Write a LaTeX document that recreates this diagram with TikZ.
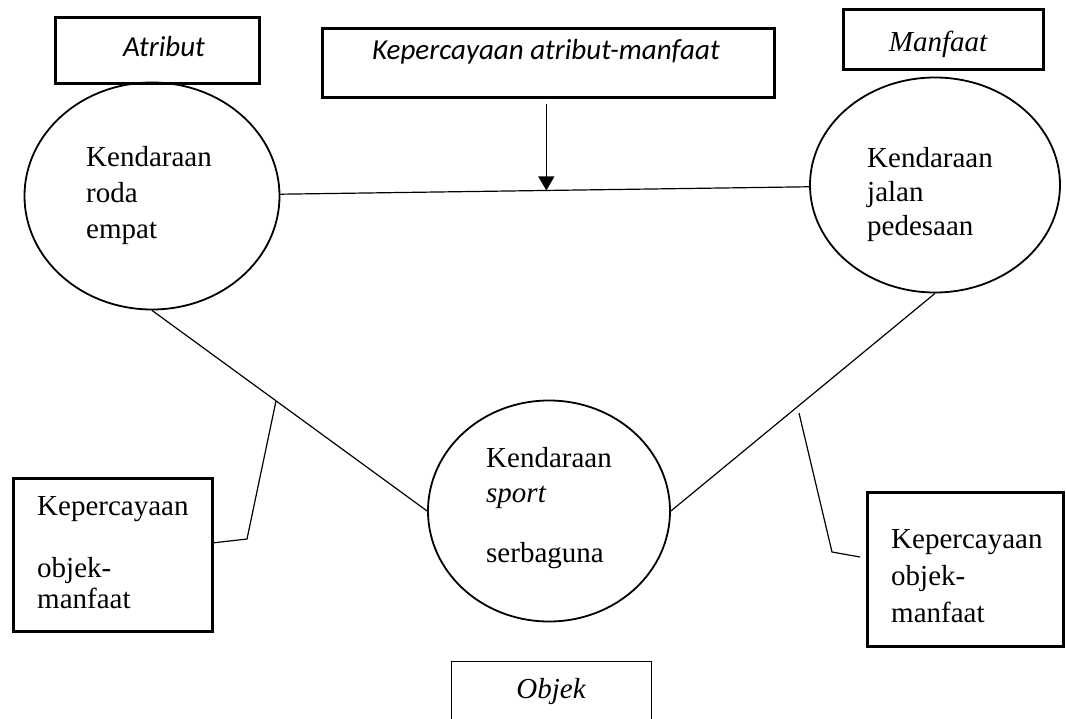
\documentclass[tikz,border=0pt]{standalone}
\usepackage{fontspec}
\setmainfont{Liberation Serif}
\newfontfamily\calibrifont{Carlito}
\usetikzlibrary{shapes.geometric,arrows.meta,calc}
\begin{document}
\begin{tikzpicture}[x=1pt,y=-1pt,
  box/.style={draw,line width=3pt,inner sep=0pt},
  oval/.style={draw,ellipse,line width=1.8pt,inner sep=0pt},
  conn/.style={line width=1.2pt},
  txt/.style={anchor=base west,inner sep=0pt,font=\fontsize{29}{34}\selectfont},
  ctxt/.style={anchor=base,inner sep=0pt,font=\fontsize{29}{34}\selectfont}]
\useasboundingbox (0,0) rectangle (1066,718);
% top boxes
\node[box,minimum width=204pt,minimum height=66pt] (atr) at (157,50) {};
\node[ctxt,font=\fontsize{29}{34}\calibrifont\itshape] (atrT) at (164,56) {Atribut};
\node[box,minimum width=452pt,minimum height=69pt] (kep) at (548,62.5) {};
\node[txt,font=\fontsize{29}{34}\calibrifont\itshape] (kepT) at (372,59) {Kepercayaan atribut-manfaat};
\node[box,minimum width=200pt,minimum height=60pt] (man) at (943,39) {};
\node[ctxt,font=\fontsize{29}{34}\selectfont\itshape] (manT) at (938,51) {Manfaat};
% circles
\node[oval,minimum width=255pt,minimum height=227pt] (lc) at (152,196) {};
\node[oval,minimum width=250pt,minimum height=215pt] (rc) at (935,185) {};
\node[oval,minimum width=242pt,minimum height=221pt] (bc) at (549,511) {};
\node[txt] (lc1) at (86,166) {Kendaraan};
\node[txt] (lc2) at (86,202) {roda};
\node[txt] (lc3) at (86,238) {empat};
\node[txt] (rc1) at (867,167) {Kendaraan};
\node[txt] (rc2) at (867,201) {jalan};
\node[txt] (rc3) at (867,235) {pedesaan};
\node[txt] (bc1) at (486,467) {Kendaraan};
\node[txt,font=\fontsize{29}{34}\selectfont\itshape] (bc2) at (486,502) {sport};
\node[txt] (bc3) at (486,562) {serbaguna};
% side boxes
\node[box,minimum width=199pt,minimum height=153pt] (lbox) at (112.5,554.5) {};
\node[txt] (lb1t) at (37,515) {Kepercayaan};
\node[txt] (lb2t) at (37,577) {objek-};
\node[txt] (lb3t) at (37,608) {manfaat};
\node[box,minimum width=196pt,minimum height=154pt] (rbox) at (965,569) {};
\node[txt] (rb1t) at (891,548) {Kepercayaan};
\node[txt] (rb2t) at (891,585) {objek-};
\node[txt] (rb3t) at (891,622) {manfaat};
% objek box (open at bottom)
\node[minimum width=199pt,minimum height=64pt,inner sep=0pt] (obox) at (551.5,694) {};
\draw[line width=1.3pt] (obox.south west) |- (obox.north east) -- (obox.south east);
\node[ctxt,font=\fontsize{29}{34}\selectfont\itshape] (oboxT) at (551,698) {Objek};
% connectors
\draw[conn] (lc) -- (rc) coordinate[pos=0.503] (tip);
\draw[conn,-{Triangle[width=16pt,length=14pt]}] ([yshift=-5pt]kep.south -| tip) -- (tip);
\draw[conn] (lc.south) -- (bc.west);
\draw[conn] (rc.south) -- (bc.east);
% brackets
\coordinate (la) at (276,401);
\coordinate (lb) at (247,539);
\coordinate (lcx) at (212,543);
\draw[conn] (la) -- (lb) -- (lcx);
\coordinate (ra) at (799,413);
\coordinate (rb) at (832,552);
\coordinate (rcx) at (860,557);
\draw[conn] (ra) -- (rb) -- (rcx);
\end{tikzpicture}
\end{document}
